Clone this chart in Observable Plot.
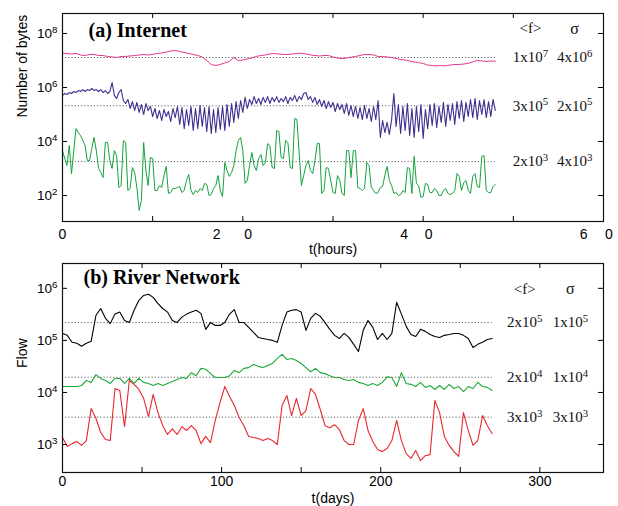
<!DOCTYPE html>
<html>
<head>
<meta charset="utf-8">
<script src="https://cdn.jsdelivr.net/npm/d3@7"></script>
<script src="https://cdn.jsdelivr.net/npm/@observablehq/plot@0.6"></script>
<style>
  html, body { margin: 0; padding: 0; background: #fff; }
  #wrap { position: relative; width: 618px; height: 506px; overflow: hidden; background: #fff; }
  .panel { position: absolute; left: 0; }
</style>
</head>
<body>
<div id="wrap">
  <div id="panelA" class="panel" style="top:0px"></div>
  <div id="panelB" class="panel" style="top:250px"></div>
</div>
<script>
// ---------- (a) Internet ----------
const highStep = 0.5;    // hours between samples of the top series
const noisyStep = 0.25;  // hours between samples of the two noisy series
const internetHigh = [
  1.86e7,1.82e7,1.74e7,1.82e7,1.60e7,1.53e7,1.67e7,1.67e7,1.53e7,1.53e7,
  1.41e7,1.35e7,1.29e7,1.41e7,1.41e7,1.47e7,1.53e7,1.60e7,1.67e7,1.60e7,
  1.67e7,1.82e7,1.90e7,2.06e7,2.25e7,2.34e7,2.15e7,1.98e7,1.82e7,1.67e7,
  1.53e7,1.35e7,1.0e7,7.1e6,6.5e6,7.1e6,8.1e6,9.2e6,1.29e7,1.0e7,
  1.04e7,1.14e7,1.24e7,1.41e7,1.53e7,1.60e7,1.74e7,1.82e7,1.74e7,1.67e7,
  1.67e7,1.74e7,1.82e7,1.86e7,1.74e7,1.60e7,1.53e7,1.47e7,1.53e7,1.53e7,
  1.35e7,1.24e7,1.16e7,1.24e7,1.33e7,1.41e7,1.53e7,1.67e7,1.67e7,1.60e7,
  1.41e7,1.41e7,1.35e7,1.29e7,1.19e7,1.09e7,1.04e7,9.6e6,8.8e6,8.4e6,
  7.7e6,6.8e6,6.5e6,6.3e6,6.5e6,6.3e6,6.8e6,7.1e6,7.1e6,7.4e6,
  7.9e6,8.8e6,1.0e7,9.6e6,9.2e6,9.6e6,9.4e6
];
const internetMid = [
  5.1e5,6.0e5,5.5e5,6.5e5, 6.0e5,7.1e5,6.5e5,7.7e5, 7.1e5,8.4e5,7.1e5,8.4e5, 7.7e5,9.2e5,7.7e5,8.4e5,
  7.1e5,8.4e5,6.5e5,7.7e5, 6.0e5,7.1e5,1.53e6,5.1e5, 3.9e5,6.5e5,8.4e5,3.3e5, 2.55e5,3.6e5,1.67e5,3.0e5,
  1.41e5,2.8e5,1.19e5,2.34e5, 1.0e5,2.55e5,1.41e5,1.98e5, 8.4e4,1.67e5,7.1e4,1.41e5, 6.0e4,1.53e5,8.4e4,1.29e5,
  5.5e4,1.67e5,7.7e4,1.98e5, 4.3e4,1.82e5,3.0e4,1.53e5, 3.9e4,1.98e5,2.55e4,1.67e5, 3.0e4,2.15e5,3.6e4,1.82e5,
  2.34e4,1.98e5,1.98e4,1.53e5, 2.15e4,1.82e5,2.8e4,1.98e5, 2.55e4,2.34e5,3.6e4,2.55e5, 5.1e4,3.0e5,7.1e4,3.3e5,
  1.19e5,4.3e5,1.67e5,3.6e5, 2.34e5,4.6e5,2.55e5,3.9e5, 2.34e5,4.3e5,2.8e5,4.6e5, 2.55e5,4.3e5,3.0e5,4.6e5,
  2.8e5,3.9e5,3.0e5,4.6e5, 2.55e5,4.3e5,3.3e5,5.1e5, 3.0e5,4.6e5,3.6e5,6.0e5, 6.5e5,3.6e5,4.6e5,2.8e5,
  4.3e5,2.34e5,3.6e5,1.98e5, 3.3e5,1.67e5,3.0e5,1.82e5, 2.8e5,1.29e5,2.55e5,1.53e5, 2.34e5,1.09e5,2.55e5,9.2e4,
  2.15e5,8.4e4,1.98e5,7.1e4, 1.82e5,6.5e4,2.15e5,7.1e4, 1.67e5,5.5e4,1.98e5,6.5e4, 3.3e5,1.41e4,6.0e4,2.15e4,
  5.1e4,1.82e4,6.5e4,6.0e5, 3.6e4,2.34e5,1.98e4,1.98e5, 2.55e4,2.55e5,1.67e4,1.67e5, 1.41e4,1.98e5,2.34e4,2.34e5,
  1.29e4,1.53e5,3.0e4,2.34e5, 3.9e4,2.55e5,3.3e4,1.98e5, 5.1e4,2.8e5,3.6e4,2.34e5, 6.0e4,2.55e5,4.3e4,3.0e5,
  7.1e4,3.3e5,5.5e4,2.8e5, 8.4e4,3.6e5,7.7e4,3.9e5, 6.5e4,3.3e5,1.0e5,3.6e5, 7.7e4,3.0e5,8.4e4,3.6e5,
  1.41e5
];
const internetLow = [
  4.6e3,2.34e3,1.29e3,7.1e3, 650,4.6e3,3.0e4,2.15e4, 1.67e4,1.09e4,7.1e3,1.98e3, 1.98e3,5.5e3,1.41e4,4.6e3,
  1.0e3,710,460,9.2e3, 9.2e3,1.98e3,1.0e3,4.6e3, 3.0e3,198,234,1.09e4, 9.2e3,153,182,1.09e3,
  710,198,28,65, 9.2e3,840,234,2.55e3, 2.34e3,153,153,234, 198,550,1.19e3,119,
  129,182,182,198, 215,129,153,360, 600,153,109,153, 129,182,153,280,
  255,100,109,182, 234,550,153,92, 1.67e3,840,510,710, 1.29e3,4.6e3,1.09e4,1.41e4,
  4.6e3,280,360,1.29e3, 3.9e3,1.29e3,840,2.34e3, 3.3e3,1.29e3,1.67e3,8.4e3, 7.1e3,1.09e3,1.0e3,2.55e4,
  2.34e4,2.55e3,2.34e3,1.09e4, 9.2e3,1.09e3,1.0e3,7.1e4, 6.5e4,3.6e3,234,550, 1.29e3,1.98e3,840,650,
  1.98e3,8.4e3,8.4e3,119, 153,1.09e3,1.0e3,360, 129,119,550,360, 119,100,4.6e3,4.6e3,
  460,4.6e3,4.6e3,198, 182,153,182,1.67e3, 1.29e3,198,153,119, 129,198,215,550,
  1.19e3,360,234,119, 129,100,109,153, 129,1.09e3,1.0e3,119, 2.8e3,280,234,85,
  92,280,255,129, 129,182,153,100, 100,153,182,119, 109,119,153,650,
  510,153,300,360, 153,119,510,650, 215,198,2.8e3,3.0e3, 153,129,129,215,
  255
];
const internetMeans = [1.29e7, 2.1e5, 1.8e3];
const internetMeanText = ["1x10^7", "3x10^5", "2x10^3"];
const internetSigmaText = ["4x10^6", "2x10^5", "4x10^3"];
const internetStatCols = [51.9, 56.8];      // hours
const internetHeaderY = 1.53e8;
const internetYTicks = [1e2, 1e4, 1e6, 1e8];
const hourTicks = [0, 10, 20, 30, 40, 50, 60];
const hourTickText = ["0", "2", "0", "4", "0", "6", "0"];
const hourTickPos = [0, 17.1, 20.6, 37.9, 40.6, 57.8, 60.6];

// ---------- (b) River Network : samples every 3 days ----------
const dayStep = 3;
const riverHigh = [
  1.36e5,1.25e5,9.2e4,8.8e4,7.7e4,8.8e4,9.6e4,3.0e5,4.1e5,2.65e5,
  2.1e5,3.2e5,3.5e5,2.4e5,2.2e5,3.8e5,5.9e5,7.3e5,7.7e5,6.7e5,
  5.1e5,4.1e5,3.5e5,2.4e5,2.2e5,2.8e5,3.2e5,3.5e5,3.8e5,3.3e5,
  1.63e5,2.2e5,1.94e5,1.94e5,2.2e5,3.2e5,3.9e5,2.2e5,2.2e5,1.78e5,
  1.43e5,1.14e5,1.09e5,1.04e5,1.0e5,9.2e4,1.94e5,3.5e5,3.8e5,3.9e5,
  3.5e5,1.56e5,2.65e5,3.3e5,2.9e5,2.2e5,1.63e5,1.25e5,1.09e5,1.36e5,
  1.14e5,8.4e4,6.1e4,1.56e5,2.4e5,1.78e5,1.04e5,1.36e5,1.04e5,1.36e5,
  5.4e5,3.2e5,1.86e5,1.30e5,1.19e5,1.63e5,1.49e5,1.30e5,1.19e5,1.14e5,
  1.25e5,1.30e5,1.36e5,1.36e5,1.25e5,1.09e5,7.3e4,8.4e4,9.2e4,1.04e5,
  1.09e5
];
const riverMid = [
  1.30e4,1.30e4,1.30e4,1.30e4,1.36e4,1.70e4,1.56e4,2.2e4,1.86e4,1.70e4,
  1.49e4,1.86e4,1.86e4,1.49e4,1.86e4,1.49e4,1.86e4,1.56e4,1.49e4,1.36e4,
  1.49e4,1.36e4,1.49e4,1.63e4,1.78e4,1.94e4,1.86e4,2.4e4,2.1e4,2.9e4,
  2.8e4,2.3e4,1.94e4,1.94e4,1.94e4,2.1e4,2.65e4,2.4e4,2.9e4,3.0e4,
  3.45e4,3.2e4,3.0e4,3.3e4,3.6e4,4.5e4,5.4e4,4.3e4,4.5e4,4.1e4,
  3.6e4,3.0e4,2.5e4,2.9e4,2.4e4,2.3e4,2.1e4,1.94e4,1.94e4,1.78e4,
  1.70e4,1.78e4,1.56e4,1.49e4,1.36e4,1.49e4,1.36e4,1.56e4,2.0e4,1.94e4,
  1.30e4,2.4e4,1.49e4,1.43e4,1.30e4,1.56e4,1.25e4,1.36e4,1.14e4,1.36e4,
  1.14e4,1.43e4,1.19e4,1.30e4,1.04e4,1.30e4,1.19e4,1.56e4,1.30e4,1.25e4,
  1.09e4
];
const riverLow = [
  1.36e3,915,1.04e3,1.14e3,960,1.19e3,4.9e3,3.2e3,1.70e3,1.25e3,
  1.19e3,1.19e4,1.09e4,2.2e3,1.70e4,1.43e4,1.14e4,7.7e3,3.45e3,9.2e3,
  4.1e3,2.3e3,1.56e3,2.0e3,1.56e3,2.2e3,1.86e3,2.3e3,1.86e3,1.04e3,
  1.43e3,1.09e3,2.9e3,6.4e3,1.30e4,8.4e3,5.6e3,3.3e3,2.3e3,1.43e3,
  1.36e3,1.30e3,1.19e3,1.30e3,1.19e3,1.0e3,5.6e3,8.75e3,3.6e3,7.7e3,
  3.6e3,4.5e3,1.19e4,9.2e3,4.7e3,2.3e3,2.1e3,2.4e3,1.94e3,1.19e3,
  1.0e3,1.0e3,2.9e3,4.9e3,1.86e3,1.14e3,800,730,840,1.19e3,
  2.9e3,1.19e3,670,540,770,490,610,640,7.0e3,4.1e3,
  1.43e3,960,730,590,4.1e3,1.86e3,960,1.19e3,3.6e3,2.3e3,
  1.63e3
];
const riverMeans = [2.2e5, 1.96e4, 3.35e3];
const riverMeanText = ["2x10^5", "2x10^4", "3x10^3"];
const riverSigmaText = ["1x10^5", "1x10^4", "3x10^3"];
const riverStatCols = [290.5, 319.2];       // days
const riverHeaderY = 9.6e5;
const riverYTicks = [1e3, 1e4, 1e5, 1e6];
const dayTicks = [0, 50, 100, 150, 200, 250, 300];
const dayTickLabels = [0, 100, 200, 300];

// ---------- helpers ----------
const SANS = "'Liberation Sans', Arial, Helvetica, sans-serif";
const SERIF = "'Liberation Serif', 'Times New Roman', Times, serif";
const powFormat = d => "10^" + Math.round(Math.log10(d));
const series = (values, step) => values.map((v, i) => ({t: i * step, v}));
const statRows = (means, mText, sText) => means.map((m, i) => ({y: m, f: mText[i], s: sText[i]}));

function superscripts(svg) {
  const ns = "http://www.w3.org/2000/svg";
  svg.querySelectorAll("text").forEach(el => {
    if (el.children.length) return;
    const m = /^(.*)\^(\d+)$/.exec(el.textContent);
    if (!m) return;
    el.textContent = "";
    const a = document.createElementNS(ns, "tspan");
    a.textContent = m[1];
    const b = document.createElementNS(ns, "tspan");
    b.textContent = m[2];
    b.setAttribute("dy", "-0.5em");
    b.setAttribute("font-size", "72%");
    el.append(a, b);
  });
}

function panel({height, marginBottom, xDomain, yDomain, xTicks, yTicks, lines, means, meanEnd,
                stats, statCols, headerY, title, titleDx, titleDy, yLabel, xLabel, xLabelDy, extra}) {
  const W = 618, mt = 13, ml = 62, mr = 15;
  const innerW = W - ml - mr, innerH = height - mt - marginBottom, tk = 5;
  return Plot.plot({
    width: W, height, marginTop: mt, marginBottom, marginLeft: ml, marginRight: mr,
    style: {fontFamily: SANS, fontSize: "13.5px", color: "#000", background: "transparent", overflow: "visible"},
    x: {domain: xDomain, axis: null},
    y: {type: "log", domain: yDomain, axis: null},
    marks: [
      Plot.ruleY(means, {y: d => d, x1: 0, x2: meanEnd, stroke: "#444", strokeWidth: 1, strokeDasharray: "1,2.2"}),
      ...lines.map(l => Plot.line(l.data, {x: "t", y: "v", stroke: l.color, strokeWidth: l.width})),
      Plot.axisY({ticks: yTicks, tickFormat: powFormat, tickSize: 0, tickPadding: 5, label: null, fontSize: 13.5}),
      Plot.tickY(yTicks, {y: d => d, insetRight: innerW - tk, stroke: "#000"}),
      Plot.tickY(yTicks, {y: d => d, insetLeft: innerW - tk, stroke: "#000"}),
      Plot.tickX(xTicks, {x: d => d, insetTop: innerH - tk, stroke: "#000"}),
      Plot.tickX(xTicks, {x: d => d, insetBottom: innerH - tk, stroke: "#000"}),
      Plot.text(stats, {x: statCols[0], y: "y", text: "f", fontFamily: SERIF, fontSize: 15, fill: "#111"}),
      Plot.text(stats, {x: statCols[1], y: "y", text: "s", fontFamily: SERIF, fontSize: 15, fill: "#111"}),
      Plot.text(["<f>"], {x: statCols[0], y: headerY, text: d => d, fontFamily: SERIF, fontSize: 15, fill: "#111"}),
      Plot.text(["σ"], {x: statCols[1], y: headerY, text: d => d, fontFamily: SERIF, fontSize: 16, fill: "#111"}),
      Plot.text([title], {frameAnchor: "top-left", textAnchor: "start", lineAnchor: "middle", dx: titleDx, dy: titleDy,
                          text: d => d, fontFamily: SERIF, fontWeight: "bold", fontSize: 20, fill: "#000"}),
      Plot.text([yLabel], {frameAnchor: "left", rotate: -90, dx: -40, text: d => d, fontSize: 14, fill: "#000"}),
      Plot.text([xLabel], {frameAnchor: "bottom", lineAnchor: "middle", dy: xLabelDy, text: d => d, fontSize: 14, fill: "#000"}),
      ...extra,
      Plot.frame({stroke: "#111", strokeWidth: 1.2})
    ]
  });
}

const plotA = panel({
  height: 250, marginBottom: 29,
  xDomain: [0, 60], yDomain: [10.9, 5.5e8],
  xTicks: hourTicks, yTicks: internetYTicks,
  lines: [
    {data: series(internetLow, noisyStep), color: "#14a23c", width: 1},
    {data: series(internetMid, noisyStep), color: "#3f2d8f", width: 1.1},
    {data: series(internetHigh, highStep), color: "#e8358c", width: 1}
  ],
  means: internetMeans, meanEnd: (internetHigh.length - 1) * highStep,
  stats: statRows(internetMeans, internetMeanText, internetSigmaText),
  statCols: internetStatCols, headerY: internetHeaderY,
  title: "(a) Internet", titleDx: 26, titleDy: 17,
  yLabel: "Number of bytes", xLabel: "t(hours)", xLabelDy: 28,
  extra: [
    Plot.text(hourTickText.map((s, i) => ({s, x: hourTickPos[i]})),
      {x: "x", text: "s", frameAnchor: "bottom", lineAnchor: "middle", dy: 13.5, fontSize: 14, fill: "#000"})
  ]
});

const plotB = panel({
  height: 256, marginBottom: 34,
  xDomain: [0, 340], yDomain: [290, 3.0e6],
  xTicks: dayTicks, yTicks: riverYTicks,
  lines: [
    {data: series(riverHigh, dayStep), color: "#000000", width: 1.1},
    {data: series(riverMid, dayStep), color: "#1fa83a", width: 1.1},
    {data: series(riverLow, dayStep), color: "#e8262e", width: 1.1}
  ],
  means: riverMeans, meanEnd: (riverHigh.length - 1) * dayStep,
  stats: statRows(riverMeans, riverMeanText, riverSigmaText),
  statCols: riverStatCols, headerY: riverHeaderY,
  title: "(b) River Network", titleDx: 21, titleDy: 14,
  yLabel: "Flow", xLabel: "t(days)", xLabelDy: 26,
  extra: [
    Plot.axisX({ticks: dayTickLabels, tickSize: 0, tickPadding: 4, label: null, fontSize: 14})
  ]
});

document.getElementById("panelA").append(plotA);
document.getElementById("panelB").append(plotB);
superscripts(plotA);
superscripts(plotB);
</script>
</body>
</html>
